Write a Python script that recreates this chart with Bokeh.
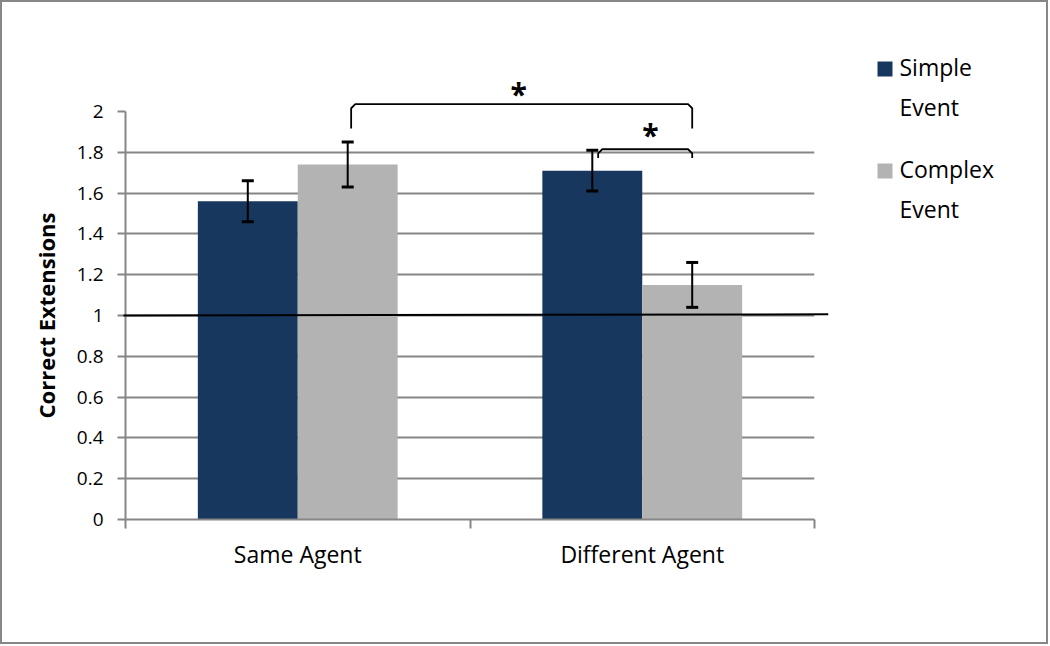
from bokeh.plotting import figure
from bokeh.models import Range1d, FixedTicker, ColumnDataSource, Whisker, TeeHead
from bokeh.core.properties import value
from bokeh.embed import file_html
from bokeh.resources import INLINE

# ---- data ----
categories = ["Same Agent", "Different Agent"]
cat_pos = [0.5, 1.5]
series_names = ["Simple\nEvent", "Complex\nEvent"]
simple_event = [1.56, 1.71]
complex_event = [1.74, 1.15]
simple_err = [0.10, 0.10]
complex_err = [0.11, 0.11]
y_ticks = [0, 0.2, 0.4, 0.6, 0.8, 1, 1.2, 1.4, 1.6, 1.8, 2]
chance_level = 1.0

# significance brackets (data coords) and stars
big_bracket_x = [0.655, 1.645]
big_bracket_y = [1.917, 2.036]
small_bracket_x = [1.372, 1.645]
small_bracket_y = [1.772, 1.815]
stars_x = [1.141, 1.524]
stars_y = [2.088, 1.889]

FONT = "Open Sans"
NAVY = "#17375E"
GRAY = "#B3B3B3"
AXIS_GRAY = "#868686"

W, H = 1048, 644
ML, MR, MT, MB = 123, 236, 109, 127
X0, X1, Y0, Y1 = 0, 2, 0, 2

bar_w = 0.29
off = bar_w / 2

p = figure(width=W, height=H, output_backend="svg", toolbar_location=None,
           x_range=Range1d(X0, X1), y_range=Range1d(Y0, Y1),
           min_border_left=ML, min_border_right=MR, min_border_top=MT, min_border_bottom=MB)
p.styles = {"border": "2px solid #878787"}
p.outline_line_color = None
p.xgrid.visible = False
p.ygrid.ticker = FixedTicker(ticks=y_ticks[1:])
p.ygrid.grid_line_color = AXIS_GRAY
p.ygrid.grid_line_width = 2

simple_x = [c - off for c in cat_pos]
complex_x = [c + off for c in cat_pos]
src_s = ColumnDataSource(dict(x=simple_x, top=simple_event,
                              lo=[v - e for v, e in zip(simple_event, simple_err)],
                              hi=[v + e for v, e in zip(simple_event, simple_err)]))
src_c = ColumnDataSource(dict(x=complex_x, top=complex_event,
                              lo=[v - e for v, e in zip(complex_event, complex_err)],
                              hi=[v + e for v, e in zip(complex_event, complex_err)]))
r_s = p.vbar(x="x", top="top", width=bar_w, source=src_s, fill_color=NAVY, line_color=None)
r_c = p.vbar(x="x", top="top", width=bar_w, source=src_c, fill_color=GRAY, line_color=None)

for src in (src_s, src_c):
    w = Whisker(base="x", upper="hi", lower="lo", source=src, line_color="black", line_width=2,
                level="overlay",
                upper_head=TeeHead(size=12, line_width=3, line_color="black"),
                lower_head=TeeHead(size=12, line_width=3, line_color="black"))
    p.add_layout(w)

# chance line (slightly tilted as in the original, extends past plot area)
p.line(x=[-0.006, 2.04], y=[chance_level, chance_level + 0.006], line_color="black",
       line_width=2, level="overlay")

# brackets
def bracket(xs, ys):
    x0, x1 = xs
    yb, yt = ys
    r = 0.012
    ry = 0.02
    bx = [x0, x0, x0 + r, x1 - r, x1, x1]
    by = [yb, yt - ry, yt, yt, yt - ry, yb]
    p.line(x=bx, y=by, line_color="black", line_width=1.8, level="overlay")

bracket(big_bracket_x, big_bracket_y)
bracket(small_bracket_x, small_bracket_y)
p.text(x=stars_x, y=stars_y, text=["*", "*"], text_font=value(FONT), text_font_size="30px",
       text_font_style="bold", text_align="center", text_baseline="middle", text_color="black",
       level="overlay")

# axes
p.yaxis.ticker = FixedTicker(ticks=y_ticks)
p.yaxis.major_label_overrides = {0: "0", 1: "1", 2: "2"}
p.yaxis.axis_line_color = AXIS_GRAY
p.yaxis.axis_line_width = 2
p.yaxis.major_tick_line_color = AXIS_GRAY
p.yaxis.major_tick_line_width = 2
p.yaxis.major_tick_out = 8
p.yaxis.major_tick_in = 0
p.yaxis.minor_tick_line_color = None
p.yaxis.major_label_standoff = 14
p.yaxis.major_label_text_font = FONT
p.yaxis.major_label_text_font_size = "19px"
p.yaxis.major_label_text_color = "black"
p.yaxis.axis_label = "Correct Extensions"
p.yaxis.axis_label_text_font = FONT
p.yaxis.axis_label_text_font_size = "22px"
p.yaxis.axis_label_text_font_style = "bold"
p.yaxis.axis_label_text_color = "black"
p.yaxis.axis_label_standoff = 13

p.xaxis.ticker = FixedTicker(ticks=cat_pos, minor_ticks=[0, 1, 2])
p.xaxis.major_label_overrides = {cat_pos[i]: categories[i] for i in range(2)}
p.xaxis.axis_line_color = AXIS_GRAY
p.xaxis.axis_line_width = 2
p.xaxis.major_tick_line_color = None
p.xaxis.major_tick_out = 0
p.xaxis.major_tick_in = 0
p.xaxis.minor_tick_line_color = AXIS_GRAY
p.xaxis.minor_tick_line_width = 2
p.xaxis.minor_tick_out = 9
p.xaxis.minor_tick_in = 0
p.xaxis.major_label_standoff = 9
p.xaxis.major_label_text_font = FONT
p.xaxis.major_label_text_font_size = "23px"
p.xaxis.major_label_text_color = "black"

# ---- legend, placed to the right of the plot area (canvas pixel layout -> data units) ----
fw, fh = W - ML - MR, H - MT - MB
def cx(px):
    return X0 + (px - ML) * (X1 - X0) / fw
def cy(py):
    return Y0 + (H - MB - py) * (Y1 - Y0) / fh

swatch_colors = [NAVY, GRAY]
item_top_px = [59, 161]        # top of each swatch (canvas px)
sw_left_px, sw_size_px = 875, 15
text_left_px = 897
line_gap_px = 39.5
first_mid_px = 5.5

for name, col, top in zip(series_names, swatch_colors, item_top_px):
    p.quad(left=[cx(sw_left_px)], right=[cx(sw_left_px + sw_size_px)],
           top=[cy(top)], bottom=[cy(top + sw_size_px)],
           fill_color=col, line_color=None, level="overlay")
    lines = name.split("\n")
    p.text(x=[cx(text_left_px)] * len(lines),
           y=[cy(top + first_mid_px + i * line_gap_px) for i in range(len(lines))],
           text=lines, text_font=value(FONT), text_font_size="23px",
           text_baseline="middle", text_align="left", text_color="black", level="overlay")

open("out.html", "w").write(file_html(p, INLINE))
